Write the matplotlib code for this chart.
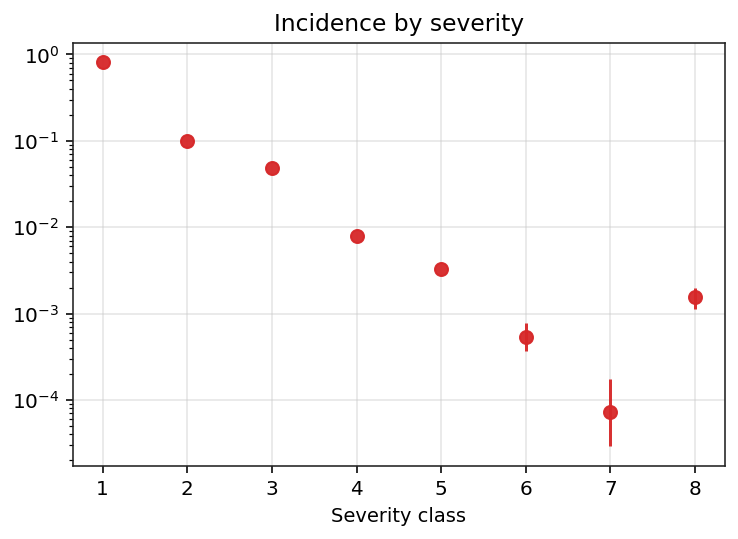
import matplotlib

matplotlib.use("Agg")

import matplotlib.pyplot as plt
import numpy as np

severity = [1, 2, 3, 4, 5, 6, 7, 8]
incidence = [0.82, 0.10, 0.049, 0.0080, 0.0033, 5.3e-4, 7.2e-5, 1.55e-3]
err_low = [0.0, 0.0, 0.0, 0.0, 0.0, 1.6e-4, 4.3e-5, 4.2e-4]
err_high = [0.0, 0.0, 0.0, 0.0, 0.0, 2.4e-4, 1.02e-4, 4.2e-4]


def main() -> None:
    fig = plt.figure(figsize=(738 / 144, 539 / 144), dpi=144)
    ax = fig.add_axes([0.099, 0.136, 0.883, 0.785])

    ax.errorbar(
        severity,
        incidence,
        yerr=[err_low, err_high],
        fmt="o",
        color="#d62728",
        markersize=6.5,
        elinewidth=1.5,
        alpha=0.95,
    )
    ax.set_yscale("log")
    ax.set_xticks(severity)
    ax.set_xlabel("Severity class", fontsize=9.7)
    ax.set_title("Incidence by severity", fontsize=11.7)
    ax.grid(True, color="#cccccc", alpha=0.5, linewidth=0.8)
    ax.set_axisbelow(True)
    for spine in ax.spines.values():
        spine.set_color("#222222")

    fig.savefig("out.png", dpi=144)
    plt.close(fig)


if __name__ == "__main__":
    main()
